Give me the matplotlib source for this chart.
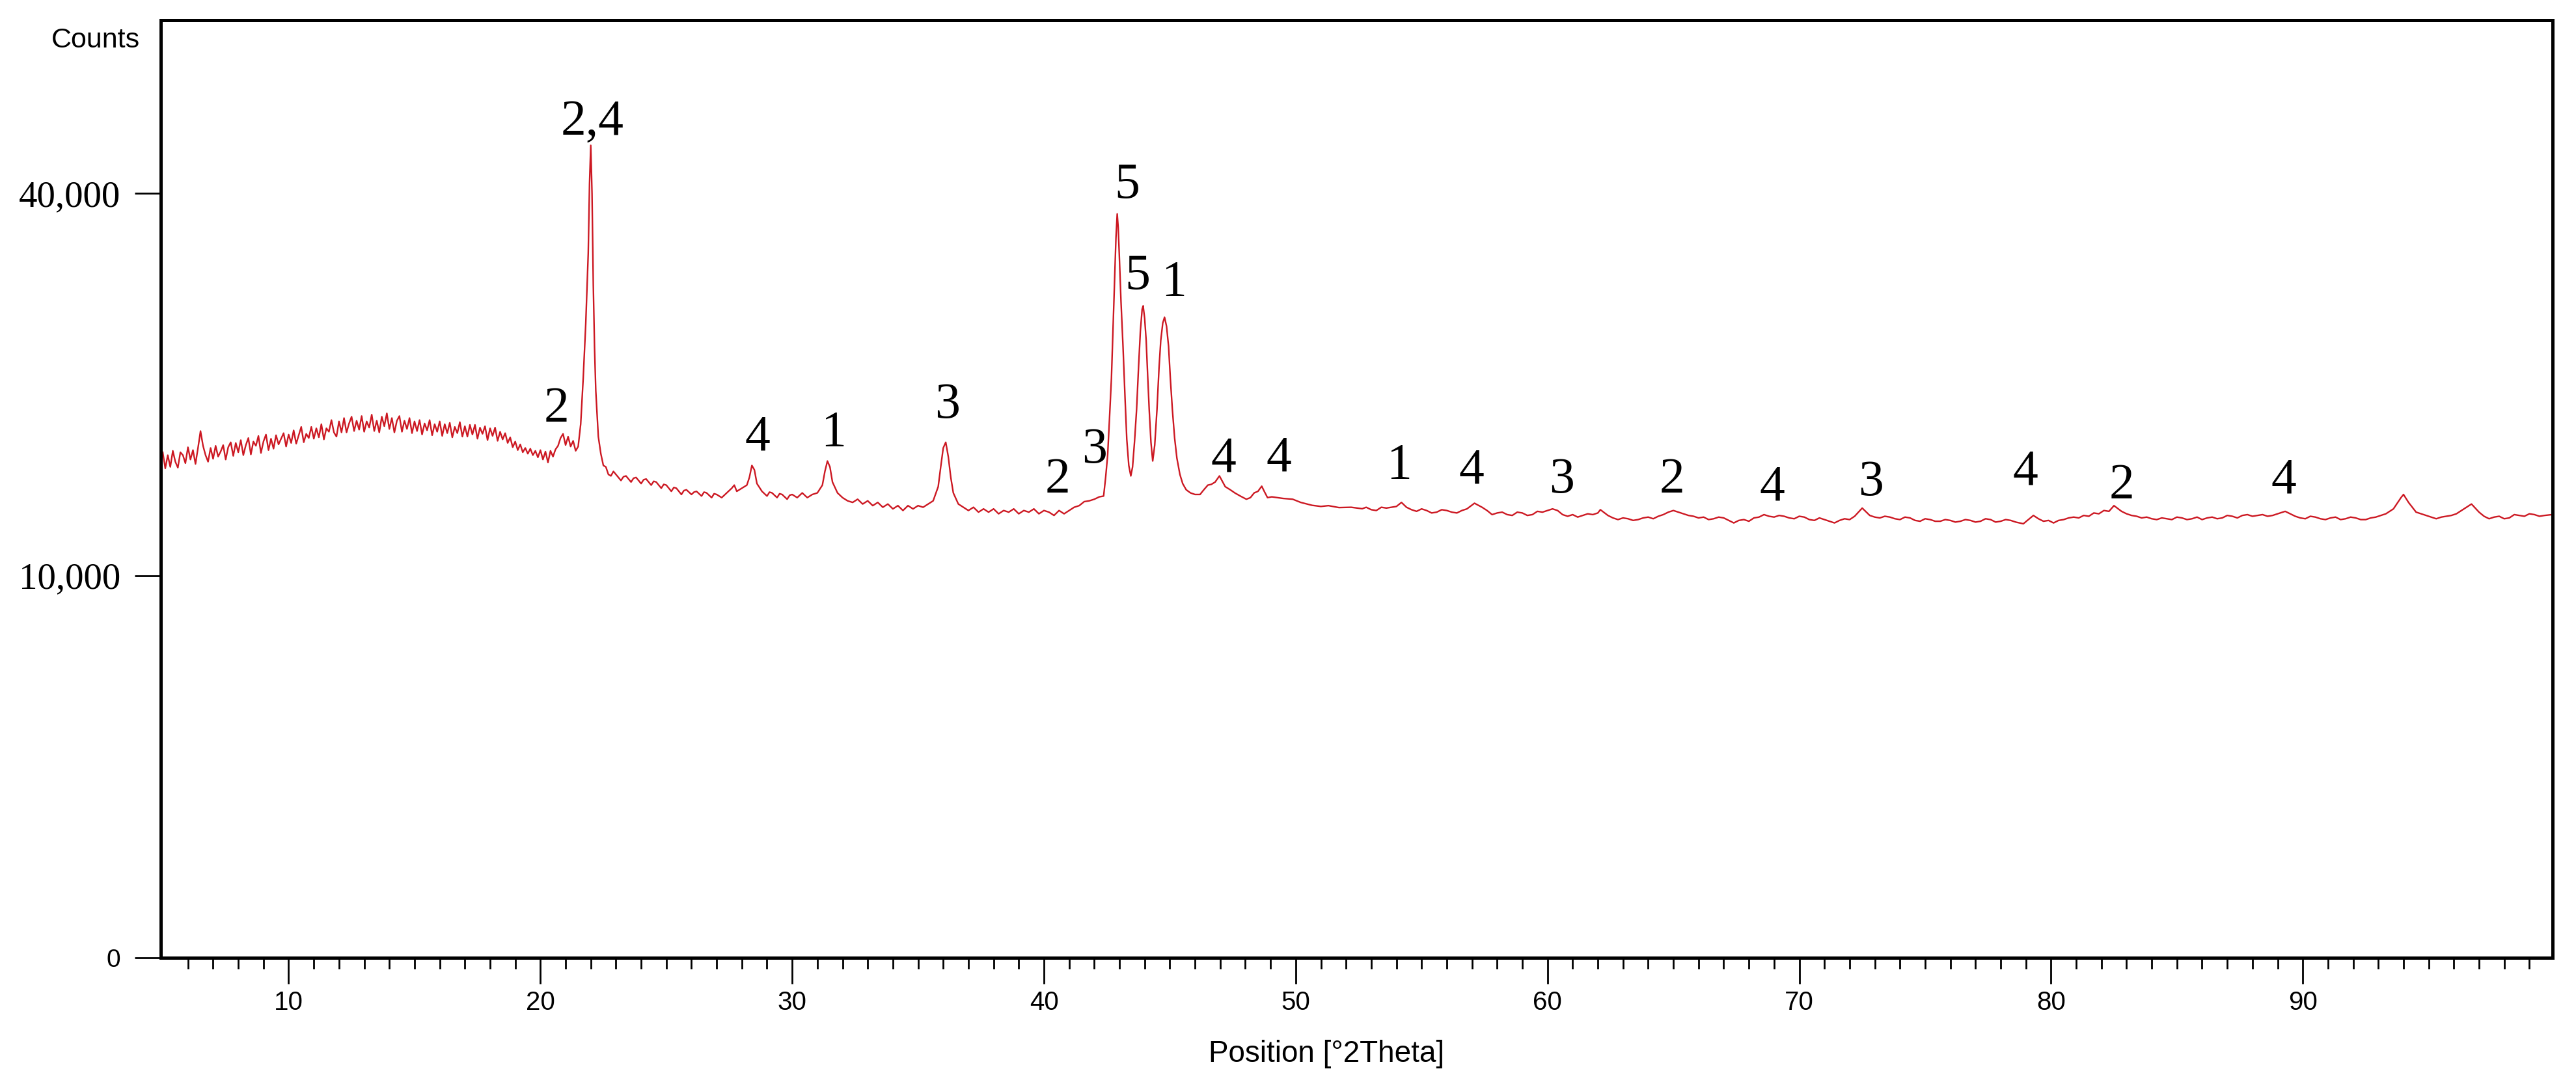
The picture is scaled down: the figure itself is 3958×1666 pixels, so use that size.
import numpy as np
import matplotlib
matplotlib.use("Agg")
import matplotlib.pyplot as plt
from matplotlib import font_manager
from matplotlib.ticker import FixedLocator

# XRD scan, (2theta, counts)
seg_hump = [
    (5.0, 17500), (5.1, 16400), (5.2, 17300), (5.3, 16500), (5.4, 17600),
    (5.5, 16850), (5.6, 16450), (5.7, 17500), (5.8, 17300), (5.9, 16750),
    (6.0, 17850), (6.1, 17000), (6.2, 17650), (6.3, 16700), (6.4, 17800),
    (6.5, 19000), (6.6, 17950), (6.7, 17300), (6.8, 16850), (6.9, 17800),
    (7.0, 17050), (7.1, 17950), (7.2, 17200), (7.3, 17550), (7.4, 18000),
    (7.5, 17000), (7.6, 17850), (7.7, 18200), (7.8, 17250), (7.9, 18150),
    (8.0, 17500), (8.1, 18350), (8.2, 17300), (8.3, 18000), (8.4, 18500),
    (8.5, 17350), (8.6, 18250), (8.7, 17950), (8.8, 18650), (8.9, 17450),
    (9.0, 18250), (9.1, 18750), (9.2, 17650), (9.3, 18450), (9.4, 17750),
    (9.5, 18700), (9.6, 18050), (9.7, 18450), (9.8, 18850), (9.9, 17900),
    (10.0, 18750), (10.1, 18150), (10.2, 19050), (10.3, 18100), (10.4, 18700),
    (10.5, 19300), (10.6, 18200), (10.7, 18800), (10.8, 18500), (10.9, 19300),
    (11.0, 18450), (11.1, 19200), (11.2, 18550), (11.3, 19500), (11.4, 18400),
    (11.5, 19200), (11.6, 18950), (11.7, 19800), (11.8, 18900), (11.9, 18600),
    (12.0, 19700), (12.1, 18900), (12.2, 19950), (12.3, 18900), (12.4, 19550),
    (12.5, 20050), (12.6, 19000), (12.7, 19750), (12.8, 19100), (12.9, 20100),
    (13.0, 18950), (13.1, 19700), (13.2, 19250), (13.3, 20200), (13.4, 19000),
    (13.5, 19750), (13.6, 18900), (13.7, 20050), (13.8, 19350), (13.9, 20300),
    (14.0, 19150), (14.1, 19950), (14.2, 18900), (14.3, 19750), (14.4, 20100),
    (14.5, 18950), (14.6, 19750), (14.7, 19150), (14.8, 19950), (14.9, 18850),
    (15.0, 19700), (15.1, 19000), (15.2, 19800), (15.3, 18750), (15.4, 19550),
    (15.5, 19050), (15.6, 19800), (15.7, 18700), (15.8, 19500), (15.9, 18950),
    (16.0, 19700), (16.1, 18650), (16.2, 19500), (16.3, 18850), (16.4, 19600),
    (16.5, 18550), (16.6, 19300), (16.7, 18850), (16.8, 19650), (16.9, 18600),
    (17.0, 19350), (17.1, 18600), (17.2, 19450), (17.3, 18750), (17.4, 19450),
    (17.5, 18450), (17.6, 19250), (17.7, 18800), (17.8, 19350), (17.9, 18350),
    (18.0, 19200), (18.1, 18650), (18.2, 19250), (18.3, 18300), (18.4, 18950),
    (18.5, 18400), (18.6, 18850), (18.7, 18150), (18.8, 18550), (18.9, 17850),
    (19.0, 18250), (19.1, 17650), (19.2, 18050), (19.3, 17500), (19.4, 17800),
    (19.5, 17400), (19.6, 17750), (19.7, 17300), (19.8, 17600), (19.9, 17150),
    (20.0, 17650), (20.1, 17000), (20.2, 17550), (20.3, 16800), (20.4, 17600),
    (20.5, 17200), (20.6, 17700), (20.7, 17950), (20.8, 18500), (20.9, 18800),
    (21.0, 18000), (21.1, 18600), (21.2, 17900), (21.3, 18300), (21.4, 17600),
]

seg_peak22 = [
    (21.5, 17900), (21.6, 19500), (21.7, 23000), (21.8, 27500), (21.9, 34000),
    (21.95, 41000), (22.0, 45200), (22.05, 40000), (22.1, 31000), (22.15, 25500),
    (22.2, 22000), (22.3, 18600), (22.4, 17400), (22.5, 16600),
]

seg_mid = [
    (22.6, 16500), (22.7, 16000), (22.8, 15900), (22.9, 16200), (23.0, 16000),
    (23.2, 15600), (23.3, 15850), (23.4, 15900), (23.6, 15500), (23.7, 15750),
    (23.8, 15800), (24.0, 15400), (24.1, 15650), (24.2, 15700), (24.4, 15300),
    (24.5, 15550), (24.6, 15500), (24.8, 15100), (24.9, 15350), (25.0, 15300),
    (25.2, 14900), (25.3, 15150), (25.4, 15100), (25.6, 14700), (25.7, 14950),
    (25.8, 15000), (26.0, 14700), (26.1, 14850), (26.2, 14900), (26.4, 14600),
    (26.5, 14850), (26.6, 14800), (26.8, 14500), (26.9, 14750), (27.0, 14700),
    (27.2, 14500), (27.4, 14800), (27.6, 15100), (27.7, 15300), (27.8, 14900),
    (28.0, 15100), (28.2, 15300), (28.3, 15800), (28.4, 16600), (28.5, 16300),
    (28.6, 15400), (28.8, 14900), (29.0, 14600), (29.1, 14850), (29.2, 14800),
    (29.4, 14500), (29.5, 14750), (29.6, 14700), (29.8, 14400), (29.9, 14650),
    (30.0, 14700), (30.2, 14500), (30.4, 14800), (30.6, 14500), (30.8, 14700),
    (31.0, 14800), (31.2, 15300), (31.3, 16200), (31.4, 16900), (31.5, 16500),
    (31.6, 15500), (31.8, 14800), (32.0, 14500), (32.2, 14300), (32.4, 14200),
    (32.6, 14400), (32.8, 14100), (33.0, 14300), (33.2, 14000), (33.4, 14200),
    (33.6, 13900), (33.8, 14100), (34.0, 13800), (34.2, 14000), (34.4, 13700),
    (34.6, 14000), (34.8, 13800), (35.0, 14000), (35.2, 13900), (35.4, 14100),
    (35.6, 14300), (35.8, 15200), (35.9, 16500), (36.0, 17800), (36.1, 18200),
    (36.2, 17200), (36.3, 15800), (36.4, 14800), (36.6, 14100), (36.8, 13900),
    (37.0, 13700), (37.2, 13900), (37.4, 13600), (37.6, 13800), (37.8, 13600),
    (38.0, 13800), (38.2, 13500), (38.4, 13700), (38.6, 13600), (38.8, 13800),
    (39.0, 13500), (39.2, 13700), (39.4, 13600), (39.6, 13800), (39.8, 13500),
    (40.0, 13700), (40.2, 13600), (40.4, 13400), (40.6, 13700), (40.8, 13500),
    (41.0, 13700),
]

seg_peaks43 = [
    (41.2, 13900), (41.4, 14000), (41.6, 14250), (41.8, 14300), (42.0, 14400),
    (42.2, 14550), (42.37, 14600), (42.45, 15800), (42.53, 17300), (42.6, 19800),
    (42.68, 23000), (42.75, 27500), (42.8, 31100), (42.86, 35500), (42.91, 37900),
    (42.95, 36500), (42.99, 34000), (43.06, 29500), (43.14, 25600), (43.22, 21500),
    (43.29, 18400), (43.37, 16600), (43.45, 15900), (43.52, 16500), (43.6, 18300),
    (43.68, 20600), (43.76, 24000), (43.83, 26900), (43.9, 28800), (43.94, 29100),
    (44.0, 28000), (44.06, 26100), (44.12, 23200), (44.18, 20600), (44.25, 18200),
    (44.32, 16900), (44.4, 18000), (44.49, 20600), (44.57, 23800), (44.64, 26100),
    (44.72, 27600), (44.79, 28100), (44.87, 27300), (44.95, 25600), (45.02, 23000),
    (45.1, 20600), (45.19, 18500), (45.28, 17100), (45.4, 16000), (45.51, 15400),
    (45.65, 15000), (45.82, 14800), (46.0, 14700), (46.2, 14700), (46.35, 15000),
    (46.51, 15300), (46.65, 15350), (46.8, 15500), (46.97, 15900), (47.1, 15500),
    (47.2, 15200), (47.4, 15000), (47.58, 14800), (47.8, 14600), (48.04, 14400),
    (48.2, 14500), (48.35, 14800), (48.5, 14900), (48.65, 15230), (48.75, 14900),
    (48.88, 14500), (49.05, 14550), (49.27, 14500), (49.5, 14450), (49.88, 14400),
    (50.2, 14200), (50.65, 14020), (51.0, 13950), (51.3, 14000), (51.72, 13880),
    (52.2, 13900), (52.64, 13810),
]

seg_tail = [
    (52.8, 13900), (53.0, 13750), (53.2, 13700), (53.4, 13900), (53.6, 13850),
    (54.0, 13950), (54.2, 14200), (54.4, 13900), (54.6, 13750), (54.8, 13650),
    (55.0, 13800), (55.2, 13700), (55.4, 13550), (55.6, 13600), (55.8, 13750),
    (56.0, 13700), (56.2, 13600), (56.4, 13550), (56.6, 13700), (56.8, 13800),
    (57.1, 14150), (57.4, 13900), (57.6, 13700), (57.8, 13450), (58.0, 13550),
    (58.2, 13600), (58.4, 13450), (58.6, 13400), (58.8, 13600), (59.0, 13550),
    (59.2, 13400), (59.4, 13450), (59.6, 13650), (59.8, 13600), (60.0, 13700),
    (60.2, 13800), (60.4, 13700), (60.6, 13450), (60.8, 13350), (61.0, 13450),
    (61.2, 13300), (61.4, 13400), (61.6, 13500), (61.8, 13450), (62.0, 13550),
    (62.1, 13750), (62.4, 13400), (62.6, 13250), (62.8, 13150), (63.0, 13250),
    (63.2, 13200), (63.4, 13100), (63.6, 13150), (63.8, 13250), (64.0, 13300),
    (64.2, 13200), (64.4, 13350), (64.6, 13450), (64.8, 13600), (65.0, 13700),
    (65.2, 13600), (65.4, 13500), (65.6, 13400), (65.8, 13350), (66.0, 13250),
    (66.2, 13300), (66.4, 13150), (66.6, 13200), (66.8, 13300), (67.0, 13250),
    (67.2, 13100), (67.4, 12950), (67.6, 13100), (67.8, 13150), (68.0, 13050),
    (68.2, 13250), (68.4, 13300), (68.6, 13450), (68.8, 13350), (69.0, 13300),
    (69.2, 13400), (69.4, 13350), (69.6, 13250), (69.8, 13200), (70.0, 13350),
    (70.2, 13300), (70.4, 13150), (70.6, 13100), (70.8, 13250), (71.0, 13150),
    (71.2, 13050), (71.4, 12950), (71.6, 13100), (71.8, 13200), (72.0, 13150),
    (72.2, 13350), (72.5, 13850), (72.8, 13400), (73.0, 13300), (73.2, 13250),
    (73.4, 13350), (73.6, 13300), (73.8, 13200), (74.0, 13150), (74.2, 13300),
    (74.4, 13250), (74.6, 13100), (74.8, 13050), (75.0, 13200), (75.2, 13150),
    (75.4, 13050), (75.6, 13050), (75.8, 13150), (76.0, 13100), (76.2, 13000),
    (76.4, 13050), (76.6, 13150), (76.8, 13100), (77.0, 13000), (77.2, 13050),
    (77.4, 13200), (77.6, 13150), (77.8, 13000), (78.0, 13050), (78.2, 13150),
    (78.4, 13100), (78.6, 13000), (78.9, 12900), (79.1, 13150), (79.3, 13400),
    (79.5, 13200), (79.7, 13050), (79.9, 13100), (80.1, 12950), (80.3, 13100),
    (80.5, 13150), (80.7, 13250), (80.9, 13300), (81.1, 13250), (81.3, 13400),
    (81.5, 13350), (81.7, 13550), (81.9, 13500), (82.1, 13700), (82.3, 13650),
    (82.5, 14000), (82.8, 13650), (83.0, 13500), (83.2, 13400), (83.4, 13350),
    (83.6, 13250), (83.8, 13300), (84.0, 13200), (84.2, 13150), (84.4, 13250),
    (84.6, 13200), (84.8, 13150), (85.0, 13300), (85.2, 13250), (85.4, 13150),
    (85.6, 13200), (85.8, 13300), (86.0, 13150), (86.2, 13250), (86.4, 13300),
    (86.6, 13200), (86.8, 13250), (87.0, 13400), (87.2, 13350), (87.4, 13250),
    (87.6, 13400), (87.8, 13450), (88.0, 13350), (88.2, 13400), (88.4, 13450),
    (88.6, 13350), (88.8, 13400), (89.0, 13500), (89.3, 13650), (89.5, 13500),
    (89.7, 13350), (89.9, 13250), (90.1, 13200), (90.3, 13350), (90.5, 13300),
    (90.7, 13200), (90.9, 13150), (91.1, 13250), (91.3, 13300), (91.5, 13150),
    (91.7, 13200), (91.9, 13300), (92.1, 13250), (92.3, 13150), (92.5, 13150),
    (92.7, 13250), (92.9, 13300), (93.1, 13400), (93.3, 13500), (93.6, 13800),
    (93.9, 14500), (94.0, 14700), (94.2, 14200), (94.5, 13600), (94.7, 13500),
    (94.9, 13400), (95.1, 13300), (95.3, 13200), (95.5, 13300), (95.7, 13350),
    (95.9, 13400), (96.1, 13500), (96.4, 13800), (96.7, 14100), (97.0, 13600),
    (97.2, 13350), (97.4, 13200), (97.6, 13300), (97.8, 13350), (98.0, 13200),
    (98.2, 13250), (98.4, 13450), (98.6, 13400), (98.8, 13350), (99.0, 13500),
    (99.2, 13450), (99.4, 13350), (99.6, 13400), (99.9, 13450),
]

# phase labels: text, 2theta, counts at the digit baseline
label_text = ["2", "2,4", "4", "1", "3", "2", "3", "5", "5", "1", "4", "4",
              "1", "4", "3", "2", "4", "3", "4", "2", "4"]
label_x = [20.64, 22.06, 28.62, 31.65, 36.17, 40.54, 42.0, 43.29, 43.72, 45.16,
           47.12, 49.34, 54.11, 56.97, 60.57, 64.94, 68.92, 72.83, 78.99, 82.82, 89.25]
label_y = [19680, 46400, 17660, 17950, 19960, 14810, 16800, 39560, 30670, 30070,
           16180, 16230, 15730, 15430, 14810, 14810, 14330, 14670, 15330, 14470, 14810]

y_ticks = [0, 10000, 40000]
y_tick_labels = ["0", "10,000", "40,000"]
x_ticks = [10, 20, 30, 40, 50, 60, 70, 80, 90]

names = {f.name for f in font_manager.fontManager.ttflist}
narrow = "Liberation Sans Narrow" if "Liberation Sans Narrow" in names else "Liberation Sans"
serif = "Liberation Serif"

scan = seg_hump + seg_peak22 + seg_mid + seg_peaks43 + seg_tail
two_theta = np.array([p[0] for p in scan])
counts = np.array([p[1] for p in scan])

fig = plt.figure(figsize=(19.79, 8.33), dpi=200)
ax = fig.add_axes([0.0624, 0.1164, 0.9285, 0.865])

ax.plot(two_theta, counts, color="#cc1822", lw=0.85)

ax.set_yscale("function", functions=(lambda v: np.sqrt(np.clip(v, 0, None)),
                                     lambda v: v ** 2))
ax.set_xlim(4.92, 99.92)
ax.set_ylim(0, 60200)

ax.set_yticks(y_ticks)
ax.set_yticklabels(y_tick_labels)
ax.yaxis.set_minor_locator(FixedLocator([]))
for lab in ax.get_yticklabels():
    if lab.get_text() == "0":
        lab.set_fontfamily(narrow)
        lab.set_fontsize(14)
    else:
        lab.set_fontfamily(serif)
        lab.set_fontsize(20.5)

ax.set_xticks(x_ticks)
ax.xaxis.set_minor_locator(FixedLocator([v for v in range(6, 100) if v % 10]))
for lab in ax.get_xticklabels():
    lab.set_fontfamily(narrow)
    lab.set_fontsize(14.5)

ax.tick_params(axis="y", direction="out", length=14.4, width=1.0, pad=8)
ax.tick_params(axis="x", which="major", direction="out", length=14.4, width=1.0, pad=3.6)
ax.tick_params(axis="x", which="minor", direction="out", length=6, width=1.0)

for sp in ax.spines.values():
    sp.set_linewidth(1.8)

for t, x, y in zip(label_text, label_x, label_y):
    ax.text(x, y, t, ha="center", va="baseline", family=serif, fontsize=28)

fig.text(147 / 3958, 1 - 62 / 1666, "Counts", ha="center", va="center",
         family=narrow, fontsize=15.5)
fig.text(2038 / 3958, 1 - 1620 / 1666, "Position [°2Theta]", ha="center",
         va="center", family=narrow, fontsize=16.5)

fig.savefig("out.png", dpi=200)
